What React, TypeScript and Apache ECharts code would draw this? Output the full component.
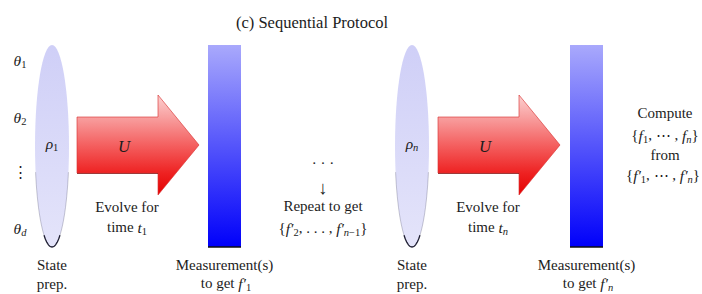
import React, { useEffect, useRef } from 'react';
import * as echarts from 'echarts';

// ---- content (texts only; {i|..} italic, {s|..} subscript, {si|..} italic subscript) ----
const TITLE = '(c) Sequential Protocol';
const PARAM_LABELS = ['{i|θ}{s|1}', '{i|θ}{s|2}', '⋮', '{i|θ}{si|d}'];
const STATE_SYMBOLS = ['{i|ρ}{s|1}', '{i|ρ}{si|n}'];
const STATE_CAPTION = ['State', 'prep.'];
const OPERATOR = '{i|U}';
const EVOLVE_CAPTIONS = [
  ['Evolve for', 'time {i|t}{s|1}'],
  ['Evolve for', 'time {i|t}{si|n}'],
];
const MEASURE_CAPTIONS = [
  ['Measurement(s)', 'to get {i|f′}{s|1}'],
  ['Measurement(s)', 'to get {i|f′}{si|n}'],
];
const REPEAT_LINES = ['· · ·', '↓', 'Repeat to get', '{{i|f′}{s|2}, . . . , {i|f′}{si|n}{s|−1}}'];
const COMPUTE_LINES = ['Compute', '{{i|f}{s|1}, ⋯ , {i|f}{si|n}}', 'from', '{{i|f′}{s|1}, ⋯ , {i|f′}{si|n}}'];

const FONT = 'Liberation Serif';
const TXT = '#1c1c1c';

type Seg = { t: string; k: string };
function parseMarkup(s: string): Seg[] {
  const out: Seg[] = [];
  const re = /\{(\w+)\|([^}]*)\}/g;
  let last = 0;
  let m: RegExpExecArray | null;
  while ((m = re.exec(s))) {
    if (m.index > last) out.push({ t: s.slice(last, m.index), k: 'n' });
    out.push({ t: m[2], k: m[1] });
    last = re.lastIndex;
  }
  if (last < s.length) out.push({ t: s.slice(last), k: 'n' });
  return out;
}

const SEG_STYLE: Record<string, { size: number; italic: boolean; dy: number }> = {
  n: { size: 15, italic: false, dy: 0 },
  i: { size: 15.5, italic: true, dy: 0 },
  s: { size: 10.5, italic: false, dy: 4.5 },
  si: { size: 10.5, italic: true, dy: 4.5 },
};

let measureCtx: CanvasRenderingContext2D | null = null;
function measure(t: string, size: number, italic: boolean) {
  if (!measureCtx) measureCtx = document.createElement('canvas').getContext('2d');
  if (!measureCtx) return t.length * size * 0.5;
  measureCtx.font = `${italic ? 'italic ' : ''}${size}px "${FONT}"`;
  return measureCtx.measureText(t).width;
}

// lay out one line of markup centred at (cx, cy); maxRight keeps it inside the page
function textLine(markup: string, cx: number, cy: number, scale = 1, maxRight = 700): any[] {
  const segs = parseMarkup(markup);
  const placed: { seg: Seg; x: number; size: number; italic: boolean; dy: number }[] = [];
  let x = 0;
  segs.forEach((seg) => {
    const st = SEG_STYLE[seg.k] || SEG_STYLE.n;
    const size = st.size * scale;
    const w = measure(seg.t, size, st.italic);
    placed.push({ seg, x, size, italic: st.italic, dy: st.dy * scale });
    x += w;
  });
  const total = x;
  let left = cx - total / 2;
  if (left + total > maxRight) left = maxRight - total;
  return placed.map((p) => ({
    type: 'text',
    silent: true,
    x: left + p.x,
    y: cy + p.dy,
    style: {
      text: p.seg.t,
      fontFamily: FONT,
      fontSize: p.size,
      fontStyle: p.italic ? 'italic' : 'normal',
      fill: TXT,
      align: 'left',
      verticalAlign: 'middle',
    },
  }));
}

function ellipseArc(cx: number, cy: number, rx: number, ry: number, a0: number, a1: number) {
  const pts: number[][] = [];
  const n = 40;
  for (let j = 0; j <= n; j++) {
    const a = ((a0 + ((a1 - a0) * j) / n) * Math.PI) / 180;
    pts.push([cx + rx * Math.cos(a), cy + ry * Math.sin(a)]);
  }
  return pts;
}

export default function App() {
  const ref = useRef<HTMLDivElement>(null);
  useEffect(() => {
    if (!ref.current) return;
    const chart = echarts.init(ref.current, null, { renderer: 'svg' });
    const els: any[] = [];

    const ellCx = [52, 412];
    const arrowX = [77, 438];
    const barX = [208, 570];
    const top = 45;
    const bottom = 247;

    for (let k = 0; k < 2; k++) {
      const cx = ellCx[k];
      const cy = (top + bottom) / 2;
      const ry = (bottom - top) / 2;
      // state ellipse
      els.push({
        type: 'ellipse',
        silent: true,
        shape: { cx, cy, rx: 17, ry },
        style: {
          fill: new echarts.graphic.LinearGradient(0, 0, 0, 1, [
            { offset: 0, color: '#cfcff7' },
            { offset: 1, color: '#e4e4fa' },
          ]),
        },
      });
      els.push({
        type: 'polyline',
        silent: true,
        shape: { points: ellipseArc(cx, cy, 17, ry, 15, 165) },
        style: { stroke: 'rgba(70,70,100,0.32)', lineWidth: 0.9, fill: null },
      });
      els.push({
        type: 'polyline',
        silent: true,
        shape: { points: ellipseArc(cx, cy, 17, ry, 62, 118) },
        style: { stroke: 'rgba(10,10,30,0.9)', lineWidth: 1.3, fill: null },
      });

      // arrow
      const x0 = arrowX[k];
      const len = 122;
      const head = 41;
      const pts = [
        [x0, 117],
        [x0 + len - head, 117],
        [x0 + len - head, 95],
        [x0 + len, 145],
        [x0 + len - head, 195],
        [x0 + len - head, 173],
        [x0, 173],
      ];
      els.push({
        type: 'polygon',
        silent: true,
        shape: { points: pts },
        style: {
          fill: new echarts.graphic.LinearGradient(0, 0, 0, 1, [
            { offset: 0, color: '#fcd0d0' },
            { offset: 0.22, color: '#f8a0a0' },
            { offset: 0.5, color: '#f46060' },
            { offset: 0.78, color: '#ee2222' },
            { offset: 1, color: '#e40000' },
          ]),
          stroke: 'rgba(215,50,50,0.8)',
          lineWidth: 0.8,
        },
      });
      els.push({
        type: 'line',
        silent: true,
        shape: { x1: x0, y1: 173.5, x2: x0 + len - head, y2: 173.5 },
        style: { stroke: 'rgba(120,0,0,0.7)', lineWidth: 1 },
      });

      // measurement bar
      const bx = barX[k];
      els.push({
        type: 'rect',
        silent: true,
        shape: { x: bx, y: top, width: 33, height: bottom - top },
        style: {
          fill: new echarts.graphic.LinearGradient(0, 0, 0, 1, [
            { offset: 0, color: '#a9a9fc' },
            { offset: 1, color: '#0000fa' },
          ]),
        },
      });
      els.push({
        type: 'line',
        silent: true,
        shape: { x1: bx, y1: bottom, x2: bx + 33, y2: bottom },
        style: { stroke: '#111', lineWidth: 1.5 },
      });

      // texts
      els.push(...textLine(STATE_SYMBOLS[k], cx, 143));
      els.push(...textLine(STATE_CAPTION[0], cx, 265));
      els.push(...textLine(STATE_CAPTION[1], cx, 284));
      els.push(...textLine(OPERATOR, x0 + 47, 146, 1.08));
      els.push(...textLine(EVOLVE_CAPTIONS[k][0], x0 + 50, 207));
      els.push(...textLine(EVOLVE_CAPTIONS[k][1], x0 + 50, 227));
      els.push(...textLine(MEASURE_CAPTIONS[k][0], bx + 16.5, 265));
      els.push(...textLine(MEASURE_CAPTIONS[k][1], bx + 18, 283));
    }

    // title
    els.push(...textLine(TITLE, 312, 22, 1.1));

    // parameter labels
    const paramY = [60, 117, 172, 228];
    PARAM_LABELS.forEach((t, k) => els.push(...textLine(t, 20, paramY[k])));

    // repeat block
    const repY = [163, 187, 206, 228];
    REPEAT_LINES.forEach((t, k) => els.push(...textLine(t, 323, repY[k], k === 1 ? 1.25 : 1)));

    // compute block
    const compY = [113, 135, 155, 175];
    COMPUTE_LINES.forEach((t, k) => els.push(...textLine(t, 665, compY[k])));

    chart.setOption({
      animation: false,
      backgroundColor: '#ffffff',
      graphic: { elements: els },
    });
    return () => chart.dispose();
  }, []);
  return <div ref={ref} style={{ width: 702, height: 294, position: 'absolute', left: 0, top: 0 }} />;
}
